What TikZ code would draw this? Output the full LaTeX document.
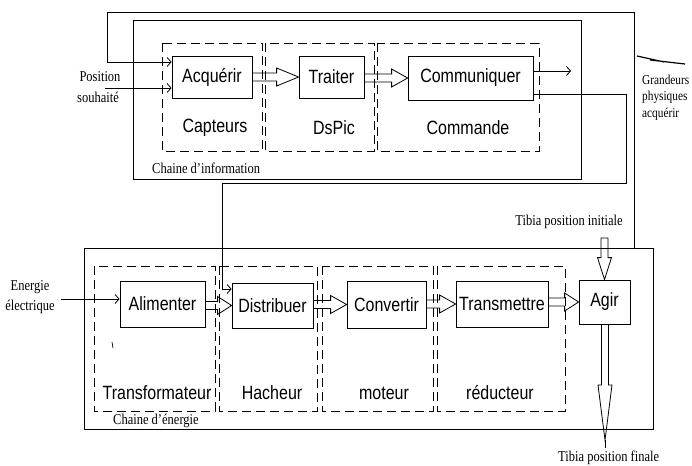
\documentclass[tikz,border=0pt]{standalone}
\usepackage{fontspec}
\setmainfont{Liberation Serif}
\newfontfamily\arialf{Liberation Sans}
\usetikzlibrary{arrows.meta,calc}
\newcommand\vs[1]{\scalebox{1}[1.2]{#1}}
\tikzset{
  ln/.style={line width=0.8pt},
  blk/.style={draw, ln, inner sep=0pt, font=\arialf\fontsize{16}{18}\selectfont},
  dbox/.style={draw, line width=0.9pt, dash pattern=on 9pt off 5pt},
  frame/.style={draw, ln},
  lab/.style={inner sep=0pt, font=\arialf\fontsize{16}{18}\selectfont},
  ser/.style={inner sep=0pt, font=\fontsize{12.5}{14}\selectfont},
  sers/.style={inner sep=0pt, font=\fontsize{11.3}{13}\selectfont},
  sarr/.style={ln, -{Straight Barb[length=4pt,width=9pt]}},
  hol/.style={draw, ln},
}
% horizontal hollow arrow: [head length]{from}{to}
\newcommand\harr[3][20]{\draw[hol] let \p1=(#2), \p2=(#3) in
  (\x1,\y2+4pt) -- (\x2-#1pt,\y2+4pt) -- (\x2-#1pt,\y2+9pt) -- (\x2,\y2) --
  (\x2-#1pt,\y2-9pt) -- (\x2-#1pt,\y2-4pt) -- (\x1,\y2-4pt) -- cycle;}
% downward hollow arrow: [head length]{from}{to}
\newcommand\varr[3][22]{\draw[hol] let \p1=(#2), \p2=(#3) in
  (\x2-3.5pt,\y1) -- (\x2-3.5pt,\y2+#1pt) -- (\x2-7pt,\y2+#1pt) -- (\x2,\y2) --
  (\x2+7pt,\y2+#1pt) -- (\x2+3.5pt,\y2+#1pt) -- (\x2+3.5pt,\y1) -- cycle;}
\begin{document}
\begin{tikzpicture}[x=1pt,y=-1pt]
\useasboundingbox (0,0) rectangle (692,465);

% frames
\draw[frame] (133,20) rectangle (581,179);
\draw[frame] (84,248) rectangle (653,429);

% dashed groups
\draw[dbox] (162,43) rectangle (262,151);
\draw[dbox] (265,43) rectangle (374,151);
\draw[dbox] (377,43) rectangle (539,151);
\draw[dbox] (94,266) rectangle (215,411);
\draw[dbox] (219,266) rectangle (317,411);
\draw[dbox] (322,266) rectangle (433,411);
\draw[dbox] (437,266) rectangle (565,411);

% blocks
\node[blk, minimum width=80pt, minimum height=42pt] (acq) at (212,77) {\vs{Acquérir}};
\node[blk, minimum width=65pt, minimum height=42pt] (tra) at (331.5,77) {\vs{Traiter}};
\node[blk, minimum width=125pt, minimum height=44pt] (com) at (470.5,78) {\vs{Communiquer}};
\node[blk, minimum width=85pt, minimum height=46pt] (ali) at (162.5,304) {\vs{Alimenter}};
\node[blk, minimum width=81pt, minimum height=45pt] (dis) at (272.5,305.5) {\vs{Distribuer}};
\node[blk, minimum width=79pt, minimum height=47pt] (con) at (386.5,304.5) {\vs{Convertir}};
\node[blk, minimum width=92pt, minimum height=46pt] (trn) at (502,304) {\vs{Transmettre}};
\node[blk, minimum width=51pt, minimum height=44pt] (agi) at (604.5,302) {\vs{Agir}};

% group labels
\node[lab] (lcap) at (215,128) {\vs{Capteurs}};
\node[lab] (ldsp) at (334,128) {\vs{DsPic}};
\node[lab] (lcom) at (468,128) {\vs{Commande}};
\node[lab] (ltra) at (157,393) {\vs{Transformateur}};
\node[lab] (lhac) at (272,393) {\vs{Hacheur}};
\node[lab] (lmot) at (384,393) {\vs{moteur}};
\node[lab] (lred) at (500,393) {\vs{réducteur}};

% serif labels
\node[ser, anchor=west] (chinf) at (152,168) {\vs{Chaine d'information}};
\node[ser, anchor=west] (chen) at (113,421) {\vs{Chaine d'énergie}};
\node[ser] (pos1) at (100,77) {\vs{Position}};
\node[ser] (pos2) at (98,97) {\vs{souhaité}};
\node[ser] (en1) at (30,287) {\vs{Energie}};
\node[ser] (en2) at (30,307) {\vs{électrique}};
\node[ser] (tibi) at (569,222) {\vs{Tibia position initiale}};
\node[ser, anchor=west] (tibf) at (558,458) {\vs{Tibia position finale}};
\node[sers, anchor=west] (gr1) at (642,80) {\vs{Grandeurs}};
\node[sers, anchor=west] (gr2) at (642,97) {\vs{physiques}};
\node[sers, anchor=west] (gr3) at (642,114) {\vs{acquérir}};

% hollow arrows
\harr[22]{acq.east}{tra.west}
\harr[16]{tra.east}{com.west}
\harr[14]{ali.east}{dis.west}
\harr[16]{dis.east}{con.west}
\harr[16]{con.east}{trn.west}
\harr[14]{trn.east}{agi.west}
\coordinate (tini) at (602,238);
\varr[22]{tini}{agi.north}
\coordinate (tfin) at (605,440);
\varr[55]{agi.south}{tfin}
\coordinate (tend) at (605,448);
\draw[ln] (tfin) -- (tend);

% feedback and signal lines
\coordinate (fb) at (634,248);
\draw[sarr] (fb) |- (107,12) |- ($(acq.west)+(0,-15)$);
\coordinate (ps) at (105,88);
\draw[sarr] (ps) -- (ps -| acq.west);
\coordinate (cout) at (571,71);
\draw[sarr] (com.east |- cout) -- (cout);
\draw[sarr] ($(com.east)+(0,16)$) -| (626,183) -| ($(dis.west)+(-9,-16.5)$) -- ($(dis.west)+(0,-16.5)$);
\coordinate (ee) at (61,299);
\draw[sarr] (ee) -- (ee -| ali.west);

% lightning mark
\draw[line width=1.2pt] (637,56) -- (664,62) (650,60) -- (685,64);
% stray tick
\draw[line width=0.7pt] (112,342) -- (113,348);
\end{tikzpicture}
\end{document}
